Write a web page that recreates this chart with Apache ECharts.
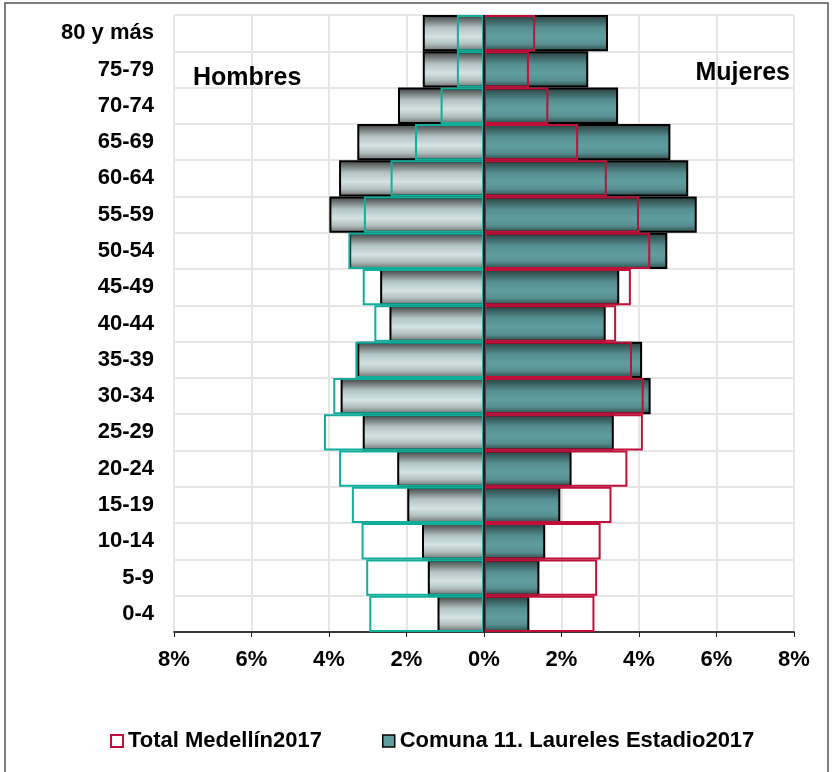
<!DOCTYPE html>
<html>
<head>
<meta charset="utf-8">
<script src="https://cdn.jsdelivr.net/npm/echarts@6/dist/echarts.min.js"></script>
<style>
  html, body { margin: 0; padding: 0; background: #fff; }
  #chart { width: 835px; height: 772px; }
</style>
</head>
<body>
<div id="chart"></div>
<script>
// age groups, bottom to top
const ageGroups = ['0-4', '5-9', '10-14', '15-19', '20-24', '25-29', '30-34', '35-39', '40-44',
  '45-49', '50-54', '55-59', '60-64', '65-69', '70-74', '75-79', '80 y más']

// % of population
const comunaHombres = [1.20, 1.45, 1.60, 1.98, 2.24, 3.13, 3.70, 3.27, 2.44, 2.68, 3.48, 3.99, 3.74, 3.27, 2.22, 1.58, 1.58]
const comunaMujeres = [1.17, 1.43, 1.58, 1.97, 2.26, 3.35, 4.30, 4.08, 3.14, 3.49, 4.73, 5.49, 5.27, 4.81, 3.46, 2.69, 3.20]
const medellinHombres = [2.96, 3.04, 3.16, 3.41, 3.74, 4.13, 3.89, 3.32, 2.83, 3.13, 3.50, 3.10, 2.41, 1.78, 1.12, 0.70, 0.70]
const medellinMujeres = [2.85, 2.92, 3.01, 3.29, 3.70, 4.10, 4.12, 3.82, 3.41, 3.79, 4.29, 4.00, 3.17, 2.43, 1.66, 1.16, 1.32]

const xTicks = [-8, -6, -4, -2, 0, 2, 4, 6, 8]

const nameMedellin = 'Total Medellín2017'
const nameComuna = 'Comuna 11. Laureles Estadio2017'
const font = '"Liberation Sans", Arial, sans-serif'

const chart = echarts.init(document.getElementById('chart'))

const grayGrad = new echarts.graphic.LinearGradient(0, 0, 0, 1, [
  { offset: 0, color: '#3c3c3c' },
  { offset: 0.35, color: '#b4c4c4' },
  { offset: 0.6, color: '#d4e2e2' },
  { offset: 0.8, color: '#b0bebe' },
  { offset: 1, color: '#6a6a6a' }
])
const tealGrad = new echarts.graphic.LinearGradient(0, 0, 0, 1, [
  { offset: 0, color: '#263c3c' },
  { offset: 0.35, color: '#558e90' },
  { offset: 0.6, color: '#5f9ea0' },
  { offset: 0.8, color: '#578f91' },
  { offset: 1, color: '#2c4646' }
])

chart.setOption({
  animation: false,
  textStyle: { fontFamily: font },
  grid: { left: 174, right: 41, top: 15, bottom: 140 },
  legend: {
    left: 105,
    top: 725,
    icon: 'rect',
    itemWidth: 12,
    itemHeight: 12,
    itemGap: 60,
    textStyle: { fontSize: 22, fontWeight: 'bold', color: '#000', fontFamily: font },
    data: [
      { name: nameMedellin, itemStyle: { color: '#fff', borderColor: '#c0103a', borderWidth: 2 } },
      { name: nameComuna, itemStyle: { color: '#5f9ea0', borderColor: '#000', borderWidth: 1.5 } }
    ]
  },
  xAxis: {
    type: 'value',
    min: xTicks[0],
    max: xTicks[xTicks.length - 1],
    interval: 2,
    axisLine: { show: true, onZero: false, lineStyle: { color: '#000', width: 1.5 } },
    axisTick: { show: true, length: 5, lineStyle: { color: '#222' } },
    axisLabel: {
      margin: 17,
      fontSize: 22,
      fontWeight: 'bold',
      color: '#000',
      formatter: v => Math.abs(v) + '%'
    },
    splitLine: { show: true, lineStyle: { color: '#e6e6e6', width: 2 } }
  },
  yAxis: {
    type: 'category',
    data: ageGroups,
    axisLine: { show: false, onZero: false },
    axisTick: { show: false },
    axisLabel: { margin: 20, fontSize: 22, fontWeight: 'bold', color: '#000' },
    splitLine: { show: true, interval: 0, lineStyle: { color: '#e6e6e6', width: 2 } }
  },
  series: [
    {
      name: nameComuna,
      type: 'bar',
      barCategoryGap: '0%',
      barGap: '-100%',
      data: comunaMujeres,
      itemStyle: { color: tealGrad, borderColor: '#000', borderWidth: 2 }
    },
    {
      name: nameComuna,
      type: 'bar',
      barCategoryGap: '0%',
      barGap: '-100%',
      data: comunaHombres.map(v => -v),
      itemStyle: { color: grayGrad, borderColor: '#000', borderWidth: 2 }
    },
    {
      name: nameMedellin,
      type: 'bar',
      barCategoryGap: '0%',
      barGap: '-100%',
      data: medellinMujeres,
      itemStyle: { color: 'rgba(0,0,0,0)', borderColor: '#c0103a', borderWidth: 2 }
    },
    {
      name: nameMedellin,
      type: 'bar',
      barCategoryGap: '0%',
      barGap: '-100%',
      data: medellinHombres.map(v => -v),
      itemStyle: { color: 'rgba(0,0,0,0)', borderColor: '#12ae9c', borderWidth: 2 },
      markLine: {
        silent: true,
        symbol: 'none',
        label: { show: false },
        lineStyle: { color: '#3a0a16', width: 2, type: 'solid' },
        data: [{ xAxis: 0 }]
      }
    }
  ],
  graphic: [
    {
      type: 'rect',
      z: 100,
      shape: { x: 5, y: 3, width: 823, height: 775 },
      style: { fill: 'none', stroke: '#555', lineWidth: 1.5 },
      silent: true
    },
    {
      type: 'text',
      z: 100,
      left: 193,
      top: 66,
      style: { text: 'Hombres', font: 'bold 25px ' + font, fill: '#000' }
    },
    {
      type: 'text',
      z: 100,
      right: 45,
      top: 61,
      style: { text: 'Mujeres', font: 'bold 25px ' + font, fill: '#000' }
    }
  ]
})
</script>
</body>
</html>
